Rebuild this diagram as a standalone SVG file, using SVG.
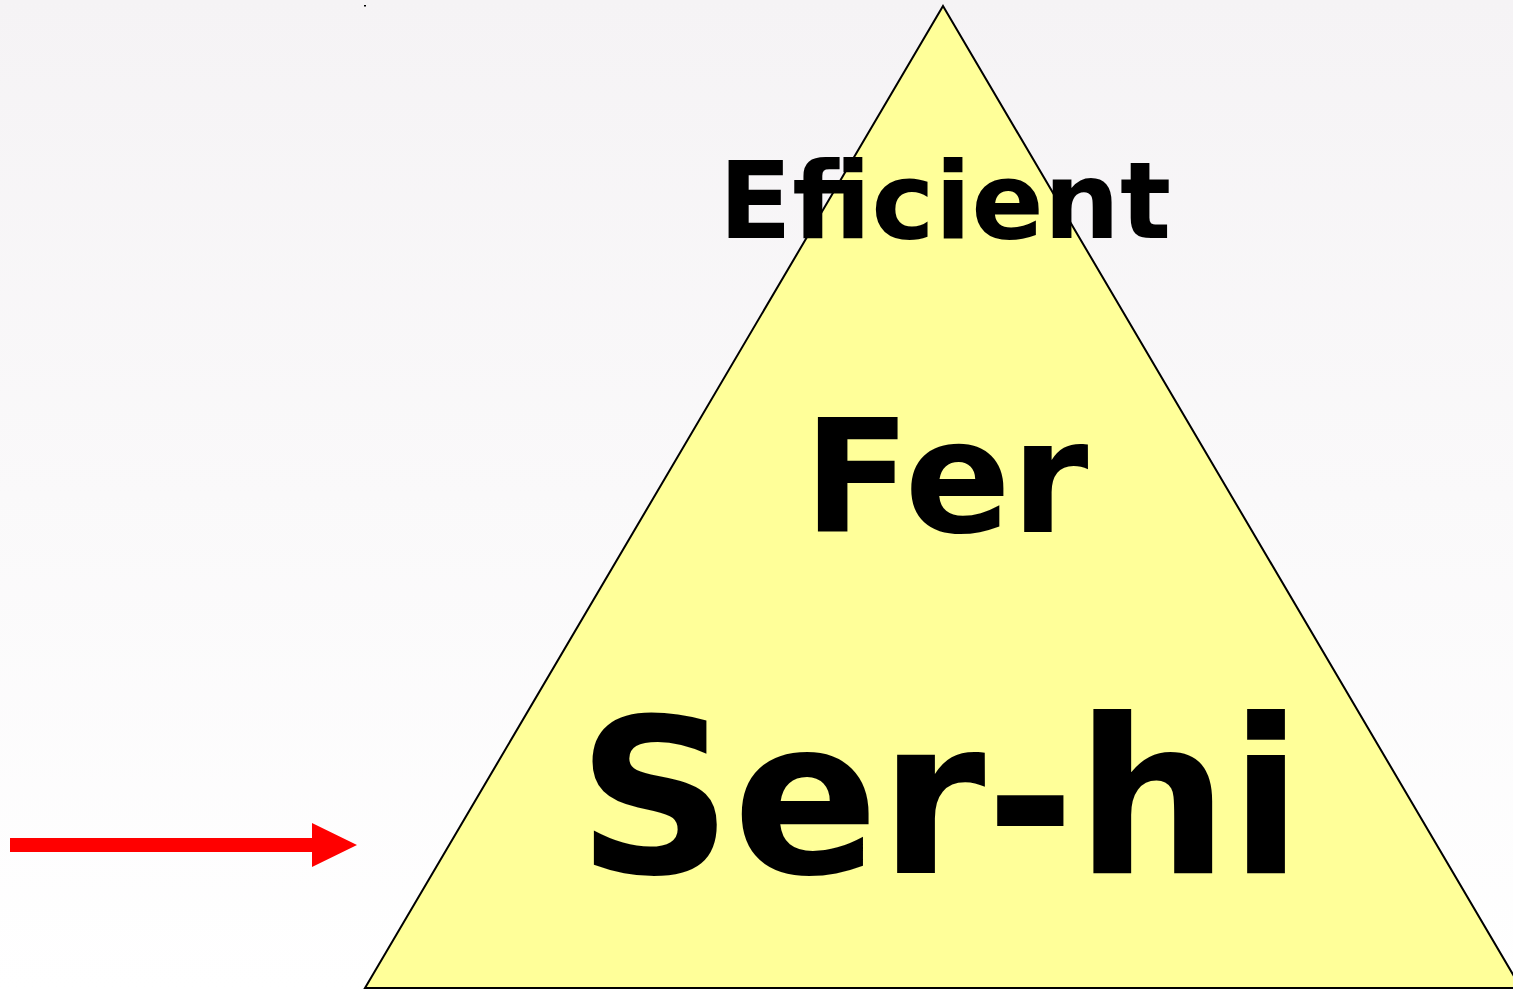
<svg xmlns="http://www.w3.org/2000/svg" width="1513" height="989" viewBox="0 0 1513 989">
<defs>
<linearGradient id="bg" x1="0" y1="0" x2="0" y2="1">
<stop offset="0" stop-color="#f5f3f5"/>
<stop offset="1" stop-color="#ffffff"/>
</linearGradient>
<style>
.t{font-family:"DejaVu Sans",Verdana,sans-serif;font-weight:bold;fill:#000;text-anchor:middle}
</style>
</defs>
<rect x="0" y="0" width="1513" height="989" fill="url(#bg)"/>
<rect x="364" y="5" width="2" height="1.5" fill="#000"/>
<g id="pyramid">
<polygon points="943,6 1521,988 365,988" fill="#ffff99" stroke="#000" stroke-width="2"/>
</g>
<g id="labels">
<text class="t" x="945" y="238" font-size="107">Eficient</text>
<text class="t" x="946" y="532" font-size="157">Fer</text>
<text class="t" x="940" y="873" font-size="216">Ser-hi</text>
</g>
<g id="connectors">
<polygon points="10,838 312,838 312,823 357,845 312,867 312,852 10,852" fill="#ff0000"/>
</g>
</svg>
